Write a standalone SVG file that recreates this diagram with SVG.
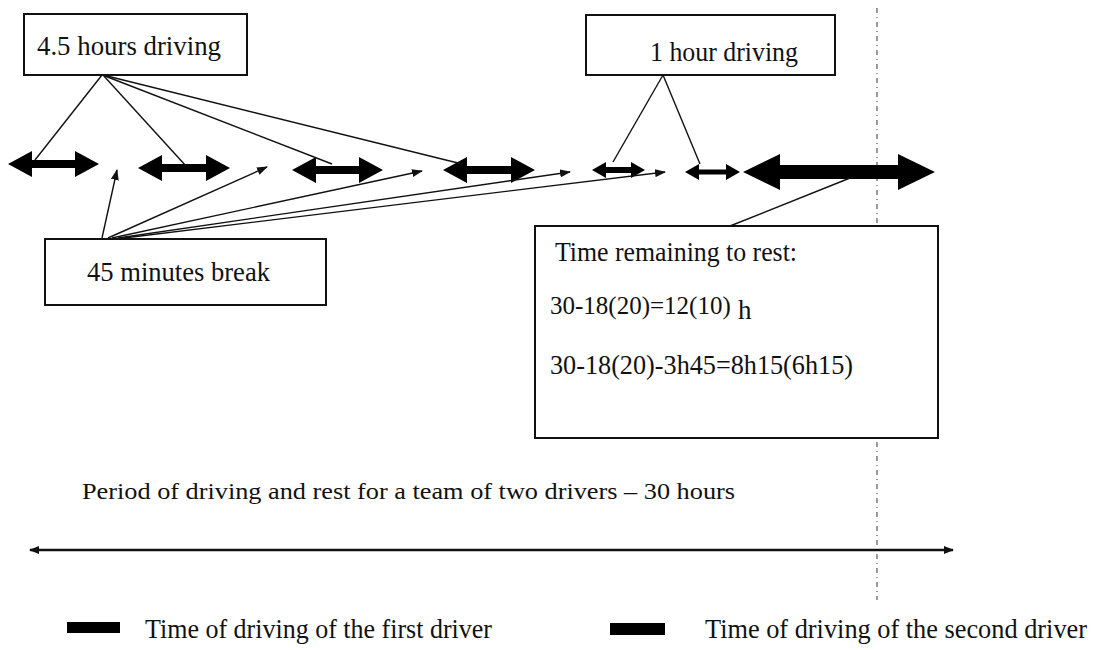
<svg xmlns="http://www.w3.org/2000/svg" width="1101" height="650" viewBox="0 0 1101 650">
<style>
.box{fill:#fff;stroke:#111;stroke-width:2}
.t{font-family:"Liberation Serif","Times New Roman","DejaVu Serif",serif;font-size:27px;fill:#111}
.conn{stroke:#111;stroke-width:1.4;fill:none}
.dbl{fill:#000}
.guide{stroke:#666;stroke-width:1.3;stroke-dasharray:5 4 1 4;fill:none}
</style>
<defs>
<marker id="ah" markerUnits="userSpaceOnUse" markerWidth="11" markerHeight="8" refX="10" refY="4" orient="auto">
<path d="M0 0 L11 4 L0 8 Z" fill="#111"/>
</marker>
<marker id="ahs" markerUnits="userSpaceOnUse" markerWidth="10" markerHeight="8" refX="9" refY="4" orient="auto-start-reverse">
<path d="M0 0 L10 4 L0 8 Z" fill="#111"/>
</marker>
</defs>

<line id="guide" class="guide" x1="877" y1="8" x2="877" y2="600"/>

<g id="timeline">
<path class="dbl" d="M8 164 L32 151 L32 160 L75 160 L75 151 L99 164 L75 177 L75 168 L32 168 L32 177 Z"/>
<path class="dbl" d="M138 168 L162 155 L162 164 L206 164 L206 155 L230 168 L206 181 L206 172 L162 172 L162 181 Z"/>
<path class="dbl" d="M292 170 L316 157 L316 166 L359 166 L359 157 L383 170 L359 183 L359 174 L316 174 L316 183 Z"/>
<path class="dbl" d="M443 170 L467 157 L467 166 L511 166 L511 157 L535 170 L511 183 L511 174 L467 174 L467 183 Z"/>
<path class="dbl" d="M592 170 L606 162 L606 167 L631 167 L631 162 L645 170 L631 178 L631 173 L606 173 L606 178 Z"/>
<path class="dbl" d="M685 172 L699 164 L699 169.5 L726 169.5 L726 164 L740 172 L726 180 L726 174.5 L699 174.5 L699 180 Z"/>
<path class="dbl" d="M743 172 L780 154 L780 165 L898 165 L898 154 L935 172 L898 190 L898 179 L780 179 L780 190 Z"/>
</g>

<g id="connectors">
<line class="conn" x1="102" y1="75" x2="35" y2="160"/>
<line class="conn" x1="103" y1="75" x2="186" y2="166"/>
<line class="conn" x1="105" y1="76" x2="332" y2="164"/>
<line class="conn" x1="107" y1="76" x2="462" y2="164"/>
<line class="conn" x1="102" y1="238" x2="117" y2="170" marker-end="url(#ah)"/>
<line class="conn" x1="108" y1="238" x2="267" y2="167" marker-end="url(#ah)"/>
<line class="conn" x1="112" y1="238" x2="422" y2="171" marker-end="url(#ah)"/>
<line class="conn" x1="118" y1="238" x2="570" y2="172" marker-end="url(#ah)"/>
<line class="conn" x1="124" y1="238" x2="665" y2="172" marker-end="url(#ah)"/>
<line class="conn" x1="663" y1="75" x2="613" y2="162"/>
<line class="conn" x1="663" y1="75" x2="700" y2="164"/>
<line class="conn" x1="730" y1="226" x2="850" y2="178"/>
<line x1="30" y1="550" x2="953" y2="550" stroke="#111" stroke-width="2.5" marker-start="url(#ahs)" marker-end="url(#ahs)"/>
</g>

<g id="box-45h">
<rect class="box" x="24" y="14" width="223" height="61"/>
<text class="t" x="37" y="55" textLength="184" lengthAdjust="spacingAndGlyphs">4.5 hours driving</text>
</g>

<g id="box-1h">
<rect class="box" x="586" y="15" width="249" height="60"/>
<text class="t" x="650" y="61" textLength="148" lengthAdjust="spacingAndGlyphs">1 hour driving</text>
</g>

<g id="box-break">
<rect class="box" x="45" y="239" width="281" height="66"/>
<text class="t" x="87" y="281" textLength="183" lengthAdjust="spacingAndGlyphs">45 minutes break</text>
</g>

<g id="box-rest">
<rect class="box" x="535" y="226" width="403" height="212"/>
<text class="t" x="555" y="261" textLength="242" lengthAdjust="spacingAndGlyphs">Time remaining to rest:</text>
<text class="t" x="550" y="314" style="font-size:25px">30-18(20)=12(10)<tspan x="738" dy="5" style="font-size:27px">h</tspan></text>
<text class="t" x="550" y="374" textLength="303" lengthAdjust="spacingAndGlyphs">30-18(20)-3h45=8h15(6h15)</text>
</g>

<g id="period-label">
<text class="t" x="82" y="499" style="font-size:24px" textLength="653" lengthAdjust="spacingAndGlyphs">Period of driving and rest for a team of two drivers – 30 hours</text>
</g>

<g id="legend">
<rect x="67" y="622" width="53" height="11" fill="#000"/>
<text class="t" x="145" y="638" textLength="347" lengthAdjust="spacingAndGlyphs">Time of driving of the first driver</text>
<rect x="610" y="623" width="55" height="12" fill="#000"/>
<text class="t" x="705" y="638" textLength="382" lengthAdjust="spacingAndGlyphs">Time of driving of the second driver</text>
</g>
</svg>
